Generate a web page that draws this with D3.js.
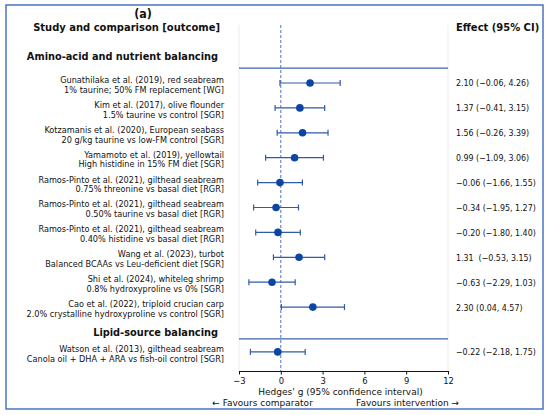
<!DOCTYPE html>
<html>
<head>
<meta charset="utf-8">
<script src="https://cdn.jsdelivr.net/npm/d3@7"></script>
<style>
  body { margin: 0; background: #fff; }
  svg { font-family: "DejaVu Sans", sans-serif; }
  .study-label { font-size: 8.3px; fill: #111; }
  .group-label { font-size: 11px; font-weight: bold; fill: #111; }
  .effect-label { font-size: 8.9px; fill: #111; }
  .axis-label { font-size: 9.3px; fill: #111; }
  .axis text { font-size: 9.4px; fill: #111; font-family: "DejaVu Sans", sans-serif; }
</style>
</head>
<body>
<div id="chart"></div>
<script>
// study labels (two lines each) per group
const groups = ["Amino-acid and nutrient balancing", "Lipid-source balancing"];
const studyGroup = [0, 0, 0, 0, 0, 0, 0, 0, 0, 0, 1];
const studyTitles = [
  "Gunathilaka et al. (2019), red seabream",
  "Kim et al. (2017), olive flounder",
  "Kotzamanis et al. (2020), European seabass",
  "Yamamoto et al. (2019), yellowtail",
  "Ramos-Pinto et al. (2021), gilthead seabream",
  "Ramos-Pinto et al. (2021), gilthead seabream",
  "Ramos-Pinto et al. (2021), gilthead seabream",
  "Wang et al. (2023), turbot",
  "Shi et al. (2024), whiteleg shrimp",
  "Cao et al. (2022), triploid crucian carp",
  "Watson et al. (2013), gilthead seabream"
];
const comparisons = [
  "1% taurine; 50% FM replacement [WG]",
  "1.5% taurine vs control [SGR]",
  "20 g/kg taurine vs low-FM control [SGR]",
  "High histidine in 15% FM diet [SGR]",
  "0.75% threonine vs basal diet [RGR]",
  "0.50% taurine vs basal diet [RGR]",
  "0.40% histidine vs basal diet [RGR]",
  "Balanced BCAAs vs Leu-deficient diet [SGR]",
  "0.8% hydroxyproline vs 0% [SGR]",
  "2.0% crystalline hydroxyproline vs control [SGR]",
  "Canola oil + DHA + ARA vs fish-oil control [SGR]"
];
const effect = [2.10, 1.37, 1.56, 0.99, -0.06, -0.34, -0.20, 1.31, -0.63, 2.30, -0.22];
const ciLow  = [-0.06, -0.41, -0.26, -1.09, -1.66, -1.95, -1.80, -0.53, -2.29, 0.04, -2.18];
const ciHigh = [4.26, 3.15, 3.39, 3.06, 1.55, 1.27, 1.40, 3.15, 1.03, 4.57, 1.75];
const xTicks = [-3, 0, 3, 6, 9, 12];

const W = 550, H = 415;
const plotLeft = 239, plotRight = 448, plotTop = 25, plotBottom = 371;
const SX = 0.89;     // text in the figure is slightly narrow
const SX_LBL = 0.985; // study labels (smaller font, less squeeze)

const fmt = v => d3.format(".2f")(v).replace("-", "\u2212");

// vertical layout in row units: header, separator, then studies
const rows = [];
const headers = [];
let cursor = 0;
groups.forEach((g, gi) => {
  const first = gi === 0;
  headers.push({ label: g, pos: cursor, line: cursor + (first ? 0.5 : 0.28) });
  let p = cursor + (first ? 1.1 : 0.8);
  studyGroup.forEach((sg, i) => {
    if (sg !== gi) return;
    rows.push({ i, pos: p });
    p += 1;
  });
  cursor = p;
});

const yScale = d3.scaleLinear()
  .domain([0, 1])
  .range([55.6, 55.6 + 24.9]);

const xScale = d3.scaleLinear()
  .domain([-3, 12])
  .range([plotLeft, plotRight]);

const place = (x, y, s) => "translate(" + x + "," + y + ") scale(" + (s || SX) + ",1)";

const svg = d3.select("#chart").append("svg")
  .attr("width", W)
  .attr("height", H);

svg.append("rect")
  .attr("width", W).attr("height", H).attr("fill", "#fff");

// outer frame
svg.append("rect")
  .attr("x", 6).attr("y", 5)
  .attr("width", 537).attr("height", 404)
  .attr("fill", "none")
  .attr("stroke", "#4a74c4")
  .attr("stroke-width", 1.5);

// faint plot sides
svg.selectAll("line.side")
  .data([plotLeft, plotRight])
  .enter().append("line")
  .attr("class", "side")
  .attr("x1", d => d).attr("x2", d => d)
  .attr("y1", plotTop).attr("y2", plotBottom)
  .attr("stroke", "#ebebeb");

// reference line at 0
svg.append("line")
  .attr("x1", xScale(0)).attr("x2", xScale(0))
  .attr("y1", plotTop).attr("y2", plotBottom)
  .attr("stroke", "#4a72c0")
  .attr("stroke-width", 1)
  .attr("stroke-dasharray", "3,2");

// titles
svg.append("text")
  .attr("transform", place(143, 18))
  .attr("text-anchor", "middle")
  .attr("class", "group-label")
  .style("font-size", "12.5px")
  .text("(a)");

svg.append("text")
  .attr("transform", place(220, 31))
  .attr("text-anchor", "end")
  .attr("class", "group-label")
  .style("font-size", "11.2px")
  .text("Study and comparison [outcome]");

svg.append("text")
  .attr("transform", place(456, 31))
  .attr("class", "group-label")
  .style("font-size", "11.2px")
  .text("Effect (95% CI)");

// group headers and separators
svg.selectAll("text.header")
  .data(headers)
  .enter().append("text")
  .attr("class", "group-label header")
  .attr("transform", d => place(218, yScale(d.pos) + 4))
  .attr("text-anchor", "end")
  .text(d => d.label);

svg.selectAll("line.sep")
  .data(headers)
  .enter().append("line")
  .attr("class", "sep")
  .attr("x1", plotLeft).attr("x2", plotRight)
  .attr("y1", d => yScale(d.line)).attr("y2", d => yScale(d.line))
  .attr("stroke", "#3d63ae")
  .attr("stroke-width", 1.2);

// study labels
const label = svg.selectAll("text.study")
  .data(rows)
  .enter().append("text")
  .attr("class", "study-label study")
  .attr("text-anchor", "end")
  .attr("transform", d => place(224, yScale(d.pos), SX_LBL));
label.append("tspan")
  .attr("x", 0).attr("dy", "0px")
  .text(d => studyTitles[d.i]);
label.append("tspan")
  .attr("x", 0).attr("dy", "9.8px")
  .text(d => comparisons[d.i]);

// effect labels
svg.selectAll("text.effect")
  .data(rows)
  .enter().append("text")
  .attr("class", "effect-label effect")
  .attr("transform", d => place(456, yScale(d.pos) + 3.5))
  .style("white-space", "pre")
  .text(d => fmt(effect[d.i]) + (d.i === 7 ? "  (" : " (") + fmt(ciLow[d.i]) + ", " + fmt(ciHigh[d.i]) + ")");

// error bars
const eb = svg.selectAll("g.ci")
  .data(rows)
  .enter().append("g")
  .attr("class", "ci")
  .attr("stroke", "#2f5aa8")
  .attr("stroke-width", 1.2);
eb.append("line")
  .attr("x1", d => xScale(ciLow[d.i])).attr("x2", d => xScale(ciHigh[d.i]))
  .attr("y1", d => yScale(d.pos)).attr("y2", d => yScale(d.pos));
eb.append("line")
  .attr("x1", d => xScale(ciLow[d.i])).attr("x2", d => xScale(ciLow[d.i]))
  .attr("y1", d => yScale(d.pos) - 3).attr("y2", d => yScale(d.pos) + 3);
eb.append("line")
  .attr("x1", d => xScale(ciHigh[d.i])).attr("x2", d => xScale(ciHigh[d.i]))
  .attr("y1", d => yScale(d.pos) - 3).attr("y2", d => yScale(d.pos) + 3);

// point estimates
svg.selectAll("circle.est")
  .data(rows)
  .enter().append("circle")
  .attr("class", "est")
  .attr("cx", d => xScale(effect[d.i]))
  .attr("cy", d => yScale(d.pos))
  .attr("r", 3.8)
  .attr("fill", "#0c45a3");

// x axis
const axis = svg.append("g")
  .attr("class", "axis")
  .attr("transform", "translate(0," + plotBottom + ")")
  .call(d3.axisBottom(xScale).tickValues(xTicks).tickSize(3.5).tickSizeOuter(0)
    .tickFormat(d => String(d).replace("-", "\u2212")));
axis.select(".domain").attr("stroke", "#111");
axis.selectAll(".tick line").attr("stroke", "#111");
axis.selectAll(".tick text")
  .attr("y", 0).attr("dy", 0)
  .attr("transform", place(0, 13));

svg.append("text")
  .attr("class", "axis-label")
  .attr("transform", place((plotLeft + plotRight) / 2 - 3, 395, 0.97))
  .attr("text-anchor", "middle")
  .text("Hedges' g (95% confidence interval)");

svg.append("text")
  .attr("class", "axis-label")
  .attr("transform", place(xScale(2.3), 406, 0.97))
  .attr("text-anchor", "end")
  .text("\u2190 Favours comparator");

svg.append("text")
  .attr("class", "axis-label")
  .attr("transform", place(xScale(5.4), 406, 0.97))
  .text("Favours intervention \u2192");
</script>
</body>
</html>
